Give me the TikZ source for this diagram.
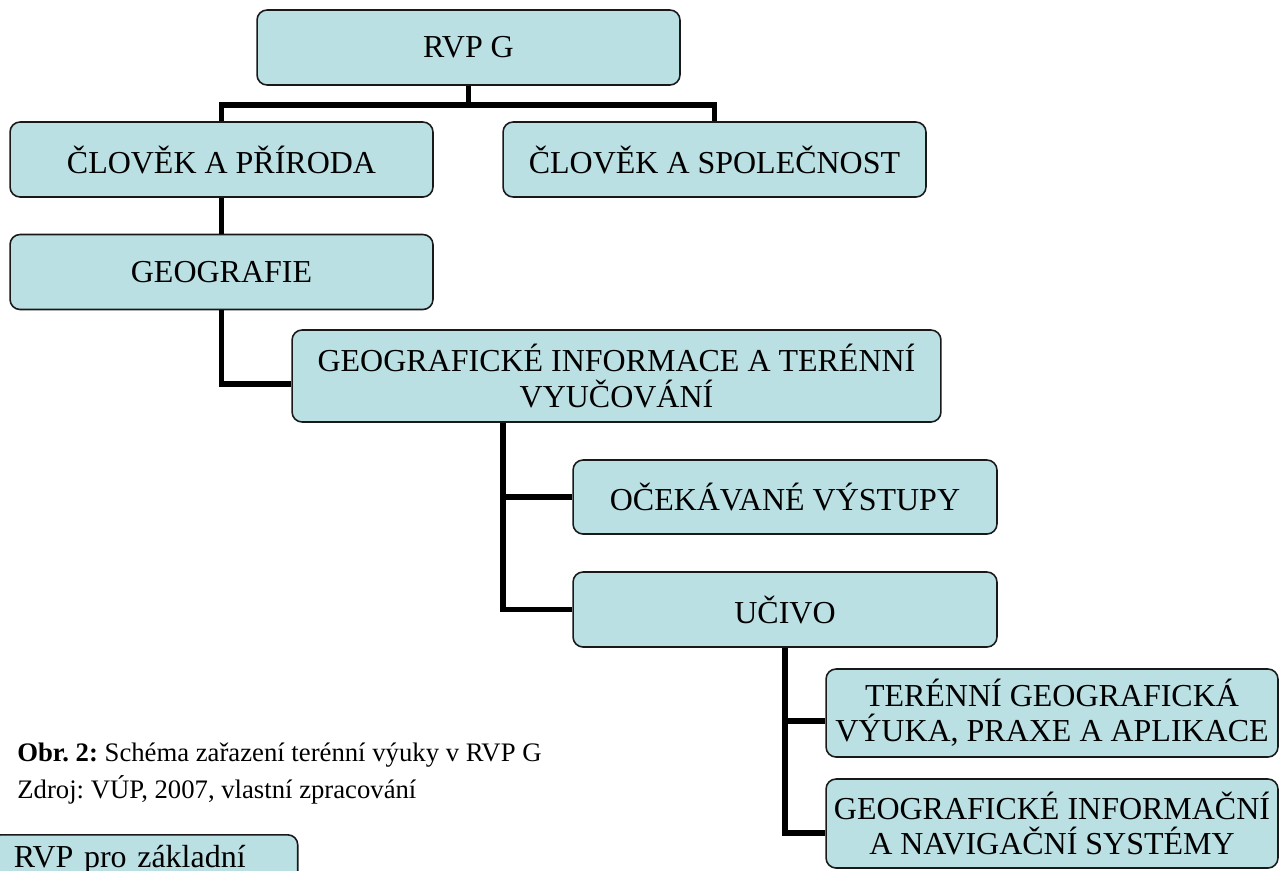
\documentclass[tikz,border=0pt]{standalone}
\usepackage{fontspec}
\setmainfont{Liberation Serif}
\usepackage{tikz}
\frenchspacing
\definecolor{boxfill}{RGB}{187,224,227}
\newcommand\boxfont{\fontsize{18.2pt}{20pt}\selectfont}
\newcommand\capfont{\fontsize{15.2pt}{18pt}\selectfont}

\begin{document}
\begin{tikzpicture}[x=0.02cm,y=-0.02cm,
box/.style={draw=black!90,line width=0.9pt,fill=boxfill,rounded corners=0.2cm,
minimum width=8.46cm,minimum height=1.5cm,align=center,inner sep=2pt,font=\boxfont},
conn/.style={line width=0.11cm,line join=miter}]
\clip(0,0)rectangle(1283,870);
\node[box](rvpg)at(468.5,47.5){RVP G};
\node[box](clpriroda)at(221.5,159.5){ČLOVĚK A PŘÍRODA};
\node[box](clspolec)at(714.5,159.5){ČLOVĚK A SPOLEČNOST};
\node[box](geografie)at(221.5,272){GEOGRAFIE};
\node[box,minimum width=12.98cm,minimum height=1.84cm](geoinfo)at(616.5,376)
{GEOGRAFICKÉ INFORMACE A TERÉNNÍ\\VYUČOVÁNÍ};
\node[box,minimum width=8.48cm,minimum height=1.48cm](vystupy)at(785,497){OČEKÁVANÉ VÝSTUPY};
\node[box,minimum width=8.48cm](ucivo)at(785,609.5){UČIVO};
\node[box,minimum width=9.04cm,minimum height=1.76cm](terenni)at(1052,713)
{TERÉNNÍ GEOGRAFICKÁ\\VÝUKA, PRAXE A APLIKACE};
\node[box,minimum width=9.04cm,minimum height=1.78cm](gisnav)at(1052,823.5)
{GEOGRAFICKÉ INFORMAČNÍ\\A NAVIGAČNÍ SYSTÉMY};
\node[box,anchor=north west,minimum width=6.14cm,text width=5.22cm,align=left,
inner xsep=0.46cm,inner ysep=0pt,text height=0.66cm,text depth=1cm](rvpzv)at(-10,834){RVP pro základní};
\node[anchor=base west,inner sep=0pt,font=\capfont](obr)at(17,761)
{\textbf{Obr. 2:} Schéma zařazení terénní výuky v RVP G};
\node[anchor=base west,inner sep=0pt,font=\capfont](zdroj)at(17,798)
{Zdroj: VÚP, 2007, vlastní zpracování};
\draw[conn](rvpg.south)--++(0,19)coordinate(rvpfork)-|(clpriroda.north);
\draw[conn](rvpfork)-|(clspolec.north);
\draw[conn](clpriroda)--(geografie);
\draw[conn](geografie.south)|-([yshift=-0.16cm]geoinfo.west);
\draw[conn]([xshift=-2.27cm]geoinfo.south)|-(vystupy.west);
\draw[conn]([xshift=-2.27cm]geoinfo.south)|-(ucivo.west);
\draw[conn](ucivo.south)|-([yshift=-0.16cm]terenni.west);
\draw[conn](ucivo.south)|-([yshift=-0.19cm]gisnav.west);
\end{tikzpicture}
\end{document}
